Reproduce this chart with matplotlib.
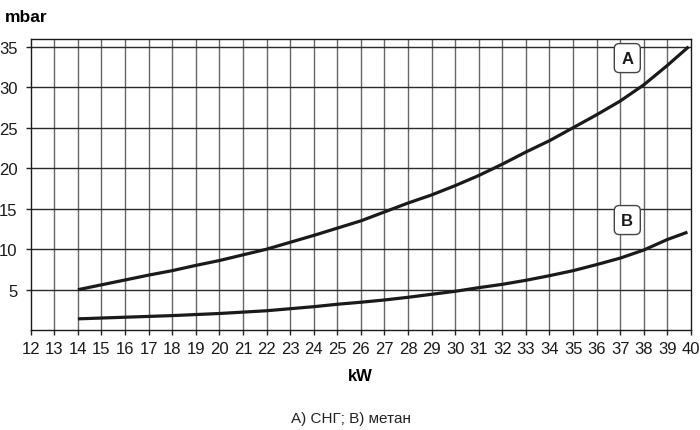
import matplotlib
matplotlib.use("Agg")
import matplotlib.pyplot as plt

# === Data ===
kw_a = [14, 15, 16, 17, 18, 19, 20, 21, 22, 23, 24, 25, 26, 27, 28, 29, 30, 31, 32, 33, 34, 35,
        36, 37, 38, 39, 39.9]
mbar_a = [5.0, 5.6, 6.2, 6.8, 7.35, 8.0, 8.6, 9.3, 10.0, 10.85, 11.7, 12.6, 13.5, 14.6, 15.7,
          16.7, 17.85, 19.1, 20.5, 22.0, 23.4, 25.0, 26.6, 28.3, 30.3, 32.7, 35.0]

kw_b = [14, 16, 18, 20, 22, 24, 25, 26, 27, 28, 29, 30, 31, 32, 33, 34, 35, 36, 37, 38, 39, 39.85]
mbar_b = [1.4, 1.6, 1.8, 2.06, 2.4, 2.9, 3.2, 3.45, 3.73, 4.06, 4.43, 4.8, 5.25, 5.66, 6.16, 6.73,
          7.35, 8.1, 8.9, 9.9, 11.2, 12.1]

x_ticks = list(range(12, 41))
y_ticks = [5, 10, 15, 20, 25, 30, 35]
curve_labels = ["A", "B"]
label_pos = [(37.3, 33.6), (37.3, 13.6)]
caption = "A) СНГ; B) метан"

plt.rcParams["font.family"] = ["Liberation Sans", "DejaVu Sans"]

# === Figure ===
fig = plt.figure(figsize=(7, 4.31), dpi=100)
ax = fig.add_axes([0.0439, 0.2316, 0.9432, 0.6745])

ax.set_xlim(12, 40)
ax.set_ylim(0, 35.9)

# grid
for x in x_ticks[1:-1]:
    ax.axvline(x, color="#666666", lw=1.0, zorder=1)
for y in y_ticks:
    ax.axhline(y, color="#2a2a2a", lw=1.0, zorder=1)

# curves
for xs, ys in [(kw_a, mbar_a), (kw_b, mbar_b)]:
    ax.plot(xs, ys, color="#1a1a1a", lw=2.3, solid_capstyle="butt",
            solid_joinstyle="round", zorder=3)

# boxed curve labels
for lab, (lx, ly) in zip(curve_labels, label_pos):
    ax.text(lx, ly, lab, ha="center", va="center", fontsize=12, fontweight="bold",
            color="#1a1a1a", zorder=4,
            bbox=dict(boxstyle="round,pad=0.42,rounding_size=0.3", fc="white",
                      ec="#444444", lw=1.0))

# ticks
ax.set_xticks(x_ticks)
ax.set_xticklabels([str(v) for v in x_ticks], fontsize=12)
ax.set_yticks(y_ticks)
ax.set_yticklabels([str(v) for v in y_ticks], fontsize=12)
ax.tick_params(axis="both", direction="out", length=3.5, width=1, color="#222222",
               labelcolor="#1a1a1a")
ax.tick_params(axis="x", pad=4)
ax.tick_params(axis="y", pad=6)

for s in ax.spines.values():
    s.set_color("#1a1a1a")
    s.set_linewidth(1.0)

# axis titles
fig.text(5 / 700, 1 - 17 / 431, "mbar", fontsize=12.5, fontweight="bold",
         ha="left", va="center")
fig.text(360 / 700, 1 - 377 / 431, "kW", fontsize=12, fontweight="bold",
         ha="center", va="center")
fig.text(351 / 700, 1 - 419 / 431, caption, fontsize=11, ha="center", va="center",
         color="#222222")

fig.savefig("out.png", dpi=100)
